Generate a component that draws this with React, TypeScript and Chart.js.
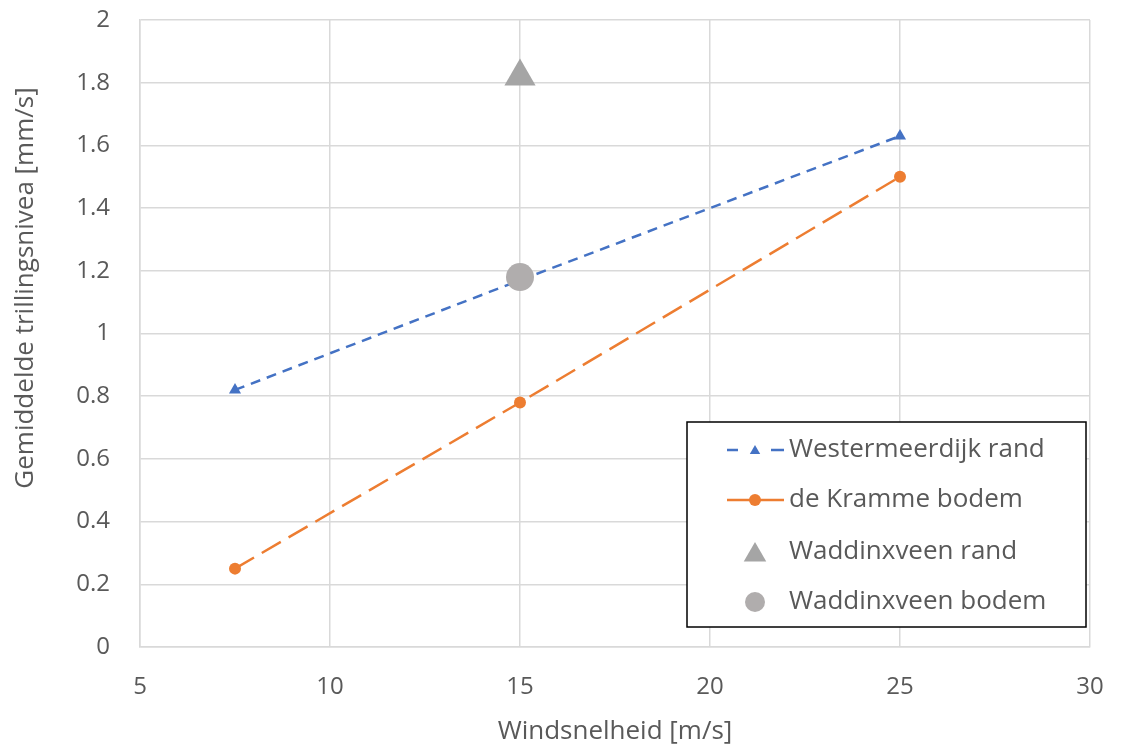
import React, { useEffect, useRef } from "react";
import { Chart, registerables } from "chart.js";

Chart.register(...registerables);

const windX = [7.5, 15, 25];
const westermeerdijkRand = [0.82, 1.17, 1.63];
const kramBodem = [0.25, 0.78, 1.5];
const waddRandX = [15];
const waddRand = [1.82];
const waddBodemX = [15];
const waddBodem = [1.18];
const seriesNames = ["Westermeerdijk rand", "de Kramme bodem", "Waddinxveen rand", "Waddinxveen bodem"];
const xTickLabels = ["5", "10", "15", "20", "25", "30"];
const yTickLabels = ["0", "0.2", "0.4", "0.6", "0.8", "1", "1.2", "1.4", "1.6", "1.8", "2"];
const xTitle = "Windsnelheid [m/s]";
const yTitle = "Gemiddelde trillingsnivea [mm/s]";

const FONT = "'Open Sans', sans-serif";
const TXT = "#595959";
const BLUE = "#4472C4";
const ORANGE = "#ED7D31";
const GRAY = "#A5A5A5";
const GRAY2 = "#B0ADAD";

const legendPlugin = {
  id: "boxLegend",
  afterDraw(chart: any) {
    const ctx = chart.ctx;
    const x0 = 687, y0 = 422, w = 399, h = 205;
    ctx.save();
    // y axis title
    ctx.fillStyle = TXT;
    ctx.font = `26px ${FONT}`;
    ctx.textBaseline = "middle";
    ctx.textAlign = "center";
    ctx.translate(26, 288);
    ctx.rotate(-Math.PI / 2);
    ctx.fillText(yTitle, 0, 0);
    ctx.setTransform(1, 0, 0, 1, 0, 0);
    // legend
    ctx.fillStyle = "#fff";
    ctx.fillRect(x0, y0, w, h);
    ctx.strokeStyle = "#000";
    ctx.lineWidth = 1.5;
    ctx.strokeRect(x0, y0, w, h);
    const rows = [450, 500, 552, 602];
    const lx1 = 727, lx2 = 784, mx = 755;
    ctx.strokeStyle = BLUE;
    ctx.lineWidth = 2.5;
    ctx.beginPath();
    ctx.moveTo(lx1, rows[0]);
    ctx.lineTo(lx1 + 11, rows[0]);
    ctx.moveTo(lx2 - 13, rows[0]);
    ctx.lineTo(lx2, rows[0]);
    ctx.stroke();
    const tri = (cx: number, cy: number, r: number, col: string) => {
      ctx.fillStyle = col;
      ctx.beginPath();
      ctx.moveTo(cx, cy - r);
      ctx.lineTo(cx + r * 0.866, cy + r * 0.5);
      ctx.lineTo(cx - r * 0.866, cy + r * 0.5);
      ctx.closePath();
      ctx.fill();
    };
    tri(mx, rows[0] + 1, 6, BLUE);
    ctx.strokeStyle = ORANGE;
    ctx.beginPath();
    ctx.moveTo(lx1, rows[1]);
    ctx.lineTo(lx2, rows[1]);
    ctx.stroke();
    ctx.fillStyle = ORANGE;
    ctx.beginPath();
    ctx.arc(mx, rows[1], 6, 0, Math.PI * 2);
    ctx.fill();
    tri(mx, rows[2] + 3, 13, GRAY);
    ctx.fillStyle = GRAY2;
    ctx.beginPath();
    ctx.arc(mx, rows[3], 10, 0, Math.PI * 2);
    ctx.fill();
    ctx.fillStyle = TXT;
    ctx.font = `26px ${FONT}`;
    ctx.textBaseline = "middle";
    ctx.textAlign = "left";
    seriesNames.forEach((n, i) => ctx.fillText(n, 789, rows[i]));
    ctx.restore();
  },
};

export default function App() {
  const ref = useRef<HTMLCanvasElement>(null);
  useEffect(() => {
    document.body.style.margin = "0";
    const chart = new Chart(ref.current!, {
      type: "scatter",
      data: {
        datasets: [
          {
            label: seriesNames[0],
            data: windX.map((x, i) => ({ x, y: westermeerdijkRand[i] })),
            showLine: true,
            borderColor: BLUE,
            backgroundColor: BLUE,
            borderWidth: 2.5,
            borderDash: [10, 7],
            pointStyle: "triangle",
            pointRadius: 7,
            pointBorderWidth: 0,
            order: 3,
          },
          {
            label: seriesNames[1],
            data: windX.map((x, i) => ({ x, y: kramBodem[i] })),
            showLine: true,
            borderColor: ORANGE,
            backgroundColor: ORANGE,
            borderWidth: 2.5,
            borderDash: [22, 9],
            pointStyle: "circle",
            pointRadius: 6,
            pointBorderWidth: 0,
            order: 2,
          },
          {
            label: seriesNames[2],
            data: waddRandX.map((x, i) => ({ x, y: waddRand[i] })),
            borderColor: GRAY,
            backgroundColor: GRAY,
            pointStyle: "triangle",
            pointRadius: 18,
            pointBorderWidth: 0,
            order: 1,
          },
          {
            label: seriesNames[3],
            data: waddBodemX.map((x, i) => ({ x, y: waddBodem[i] })),
            borderColor: GRAY2,
            backgroundColor: GRAY2,
            pointStyle: "circle",
            pointRadius: 14,
            pointBorderWidth: 0,
            order: 0,
          },
        ],
      },
      options: {
        animation: false,
        responsive: false,
        maintainAspectRatio: false,
        layout: { padding: { top: 20, right: 36, left: 0, bottom: 0 } },
        plugins: { legend: { display: false }, tooltip: { enabled: false } },
        scales: {
          x: {
            type: "linear",
            min: 5,
            max: 30,
            afterFit: (s: any) => {
              s.height = 100;
              s.paddingLeft = 0;
              s.paddingRight = 0;
            },
            ticks: {
              stepSize: 5,
              color: TXT,
              font: { family: FONT, size: 24 },
              padding: 26,
              maxRotation: 0,
              callback: (v: any) => {
                const i = Math.round((Number(v) - 5) / 5);
                return xTickLabels[i] ?? "";
              },
            },
            grid: { color: "#D9D9D9", lineWidth: 1.5, drawTicks: false },
            border: { color: "#D9D9D9", width: 1.5 },
            title: {
              display: true,
              text: xTitle,
              color: TXT,
              font: { family: FONT, size: 26 },
              padding: { top: 0, bottom: 0 },
            },
          },
          y: {
            type: "linear",
            min: 0,
            max: 2,
            afterFit: (s: any) => {
              s.width = 140;
              s.paddingTop = 0;
              s.paddingBottom = 0;
            },
            ticks: {
              stepSize: 0.2,
              color: TXT,
              font: { family: FONT, size: 24 },
              padding: 30,
              callback: (v: any) => {
                const i = Math.round(Number(v) / 0.2);
                return yTickLabels[i] ?? "";
              },
            },
            grid: { color: "#D9D9D9", lineWidth: 1.5, drawTicks: false },
            border: { color: "#D9D9D9", width: 1.5 },
          },
        },
      },
      plugins: [legendPlugin],
    } as any);
    return () => chart.destroy();
  }, []);
  return (
    <div style={{ position: "absolute", left: 0, top: 0, width: 1126, height: 747, background: "#fff" }}>
      <canvas ref={ref} width={1126} height={747} style={{ width: 1126, height: 747 }} />
    </div>
  );
}
